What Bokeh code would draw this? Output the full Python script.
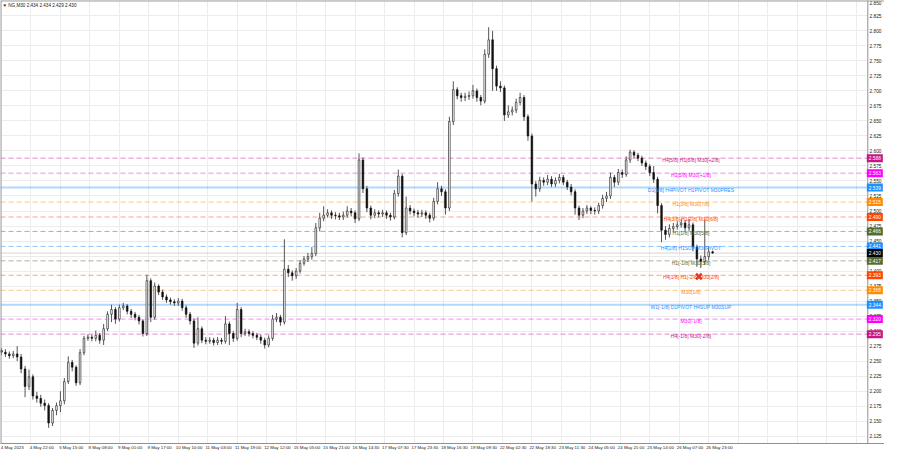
from bokeh.plotting import figure
from bokeh.models import (Range1d, FixedTicker, SingleIntervalTicker, Span, Label,
                          ColumnDataSource, PrintfTickFormatter)
from bokeh.embed import file_html
from bokeh.resources import INLINE
from bokeh.core.properties import value

# ---------------- data (NG, M30) ----------------
first_open = 2.268
closes = [
    2.265, 2.262, 2.259, 2.262, 2.257, 2.237, 2.208, 2.224, 2.192, 2.188,
    2.180, 2.176, 2.147, 2.168, 2.176, 2.184, 2.216, 2.248, 2.240, 2.214,
    2.264, 2.288, 2.290, 2.288, 2.293, 2.285, 2.304, 2.328, 2.336, 2.320,
    2.339, 2.342, 2.333, 2.328, 2.323, 2.317, 2.296, 2.384, 2.323, 2.375,
    2.365, 2.357, 2.352, 2.349, 2.347, 2.350, 2.339, 2.328, 2.317, 2.280,
    2.304, 2.285, 2.283, 2.285, 2.281, 2.285, 2.283, 2.312, 2.296, 2.288,
    2.336, 2.296, 2.299, 2.296, 2.293, 2.290, 2.285, 2.277, 2.288, 2.320,
    2.323, 2.315, 2.403, 2.397, 2.392, 2.400, 2.413, 2.420, 2.424, 2.429,
    2.472, 2.488, 2.493, 2.497, 2.493, 2.492, 2.490, 2.493, 2.500, 2.497,
    2.487, 2.585, 2.537, 2.505, 2.493, 2.497, 2.495, 2.497, 2.493, 2.490,
    2.529, 2.558, 2.464, 2.505, 2.500, 2.497, 2.495, 2.497, 2.493, 2.488,
    2.516, 2.537, 2.532, 2.505, 2.649, 2.702, 2.692, 2.689, 2.691, 2.692,
    2.700, 2.689, 2.683, 2.761, 2.785, 2.737, 2.708, 2.705, 2.660, 2.665,
    2.668, 2.681, 2.689, 2.657, 2.625, 2.545, 2.537, 2.551, 2.548, 2.553,
    2.545, 2.551, 2.556, 2.548, 2.540, 2.532, 2.505, 2.493, 2.500, 2.505,
    2.501, 2.500, 2.509, 2.521, 2.525, 2.556, 2.548, 2.564, 2.561, 2.585,
    2.598, 2.593, 2.588, 2.580, 2.574, 2.564, 2.553, 2.509, 2.468, 2.461,
    2.471, 2.474, 2.477, 2.480, 2.472, 2.477, 2.440, 2.420, 2.416, 2.424,
    2.432, 2.430,
]
highs = [
    2.272, 2.270, 2.266, 2.267, 2.275, 2.262, 2.242, 2.236, 2.228, 2.199,
    2.194, 2.186, 2.180, 2.172, 2.181, 2.200, 2.222, 2.258, 2.252, 2.243,
    2.270, 2.292, 2.295, 2.294, 2.301, 2.297, 2.312, 2.333, 2.344, 2.340,
    2.344, 2.347, 2.345, 2.337, 2.332, 2.327, 2.320, 2.394, 2.388, 2.381,
    2.378, 2.369, 2.361, 2.356, 2.353, 2.355, 2.354, 2.343, 2.332, 2.321,
    2.323, 2.308, 2.290, 2.290, 2.289, 2.290, 2.289, 2.325, 2.316, 2.300,
    2.347, 2.340, 2.304, 2.303, 2.300, 2.297, 2.294, 2.289, 2.293, 2.327,
    2.330, 2.327, 2.453, 2.410, 2.401, 2.405, 2.418, 2.425, 2.430, 2.440,
    2.480, 2.497, 2.508, 2.503, 2.501, 2.498, 2.497, 2.499, 2.508, 2.505,
    2.501, 2.596, 2.589, 2.542, 2.509, 2.503, 2.501, 2.502, 2.501, 2.497,
    2.535, 2.569, 2.562, 2.524, 2.510, 2.504, 2.502, 2.502, 2.501, 2.497,
    2.522, 2.548, 2.542, 2.536, 2.657, 2.716, 2.706, 2.697, 2.697, 2.699,
    2.710, 2.704, 2.693, 2.769, 2.806, 2.800, 2.742, 2.716, 2.709, 2.676,
    2.674, 2.687, 2.697, 2.693, 2.661, 2.629, 2.550, 2.557, 2.556, 2.560,
    2.558, 2.556, 2.562, 2.560, 2.552, 2.545, 2.536, 2.509, 2.505, 2.510,
    2.508, 2.506, 2.514, 2.527, 2.532, 2.564, 2.560, 2.570, 2.569, 2.591,
    2.602, 2.601, 2.597, 2.592, 2.584, 2.578, 2.575, 2.557, 2.513, 2.475,
    2.478, 2.480, 2.483, 2.487, 2.485, 2.487, 2.481, 2.444, 2.426, 2.486,
    2.440, 2.434,
]
lows = [
    2.260, 2.257, 2.254, 2.255, 2.250, 2.230, 2.190, 2.202, 2.186, 2.181,
    2.174, 2.168, 2.139, 2.142, 2.160, 2.165, 2.178, 2.212, 2.233, 2.209,
    2.210, 2.260, 2.284, 2.283, 2.283, 2.279, 2.277, 2.300, 2.315, 2.312,
    2.316, 2.335, 2.328, 2.322, 2.318, 2.311, 2.291, 2.292, 2.315, 2.319,
    2.360, 2.352, 2.347, 2.344, 2.342, 2.342, 2.334, 2.322, 2.311, 2.272,
    2.276, 2.280, 2.278, 2.279, 2.276, 2.277, 2.278, 2.279, 2.277, 2.282,
    2.284, 2.290, 2.292, 2.291, 2.288, 2.285, 2.279, 2.271, 2.273, 2.284,
    2.315, 2.309, 2.311, 2.390, 2.384, 2.387, 2.396, 2.409, 2.415, 2.419,
    2.425, 2.466, 2.483, 2.489, 2.487, 2.486, 2.485, 2.485, 2.489, 2.491,
    2.480, 2.483, 2.530, 2.498, 2.486, 2.488, 2.489, 2.490, 2.487, 2.484,
    2.486, 2.524, 2.456, 2.460, 2.494, 2.491, 2.489, 2.490, 2.487, 2.481,
    2.484, 2.511, 2.525, 2.494, 2.500, 2.643, 2.686, 2.682, 2.683, 2.685,
    2.687, 2.682, 2.676, 2.679, 2.755, 2.700, 2.700, 2.698, 2.650, 2.655,
    2.659, 2.663, 2.676, 2.650, 2.617, 2.516, 2.524, 2.532, 2.542, 2.543,
    2.540, 2.540, 2.546, 2.543, 2.535, 2.526, 2.494, 2.485, 2.488, 2.495,
    2.495, 2.494, 2.495, 2.504, 2.515, 2.520, 2.540, 2.543, 2.555, 2.557,
    2.580, 2.588, 2.583, 2.575, 2.568, 2.558, 2.547, 2.496, 2.448, 2.452,
    2.456, 2.466, 2.469, 2.472, 2.466, 2.467, 2.433, 2.407, 2.405, 2.410,
    2.418, 2.429,
]

time_labels = [
    "4 May 2023", "4 May 22:00", "5 May 15:00", "8 May 08:00", "9 May 01:00",
    "9 May 17:00", "10 May 10:00", "11 May 03:00", "11 May 19:00", "12 May 12:00",
    "15 May 05:00", "15 May 21:00", "16 May 14:30", "17 May 07:30", "17 May 23:30",
    "18 May 16:30", "19 May 09:30", "22 May 02:30", "22 May 18:30", "23 May 11:30",
    "24 May 05:00", "24 May 21:00", "25 May 14:00", "26 May 07:00", "26 May 23:00",
]

level_prices = [2.588, 2.563, 2.539, 2.515, 2.490, 2.466, 2.441,
                2.417, 2.393, 2.368, 2.344, 2.320, 2.295]
level_texts = [
    "H4[5/8] H1[6/8] M30[+2/8]",
    "H1[5/8] M30[+1/8]",
    "D1[5/8] H4PIVOT H1PIVOT M30PRES",
    "H1[3/8] M30[7/8]",
    "H4[3/8] H1[2/8] M30[6/8]",
    "H1[1/8] M30[5/8]",
    "H4[2/8] H1SUP M30PIVOT",
    "H1[-1/8] M30[3/8]",
    "H4[1/8] H1[-2/8] M30[2/8]",
    "M30[1/8]",
    "W1[-1/8] D1PIVOT H4SUP M30SUP",
    "M30[-1/8]",
    "H4[-1/8] M30[-2/8]",
]
level_colors = ["#C71585", "#FF00FF", "#1E90FF", "#FF8C00", "#FF4500", "#556B2F", "#1E90FF",
                "#556B2F", "#FF4500", "#FF8C00", "#1E90FF", "#FF00FF", "#C71585"]
level_solid = [False, False, True, False, False, False, False,
               False, False, False, True, False, False]

current_price = 2.430
header_text = "NG,M30  2.434 2.434 2.429 2.430"
mark_x = [711]
mark_y = [2.391]

# ---------------- figure ----------------
AXIS_X = 883          # where the price scale column begins (bar units)
X_END = 900
Y_LO, Y_HI = 2.1129, 2.8505
n = len(closes)
bar_x = [4 * i + 1 for i in range(n)]
opens = [first_open] + closes[:-1]
body_top = [max(o, c) for o, c in zip(opens, closes)]
body_bot = [min(o, c) for o, c in zip(opens, closes)]
body_fill = ["white" if c >= o else "#111111" for o, c in zip(opens, closes)]

src = ColumnDataSource(dict(x=bar_x, high=highs, low=lows, top=body_top,
                            bottom=body_bot, fill=body_fill))

p = figure(width=884, height=452, output_backend="svg", toolbar_location=None,
           x_range=Range1d(0, X_END), y_range=Range1d(Y_LO, Y_HI),
           y_axis_location="right", min_border=0)
p.background_fill_color = "white"
p.border_fill_color = "white"
p.outline_line_color = None

FONT = "Liberation Sans"

# price axis: labels drawn inside the right-hand price column
p.yaxis.ticker = SingleIntervalTicker(interval=0.025, num_minor_ticks=0)
p.yaxis.formatter = PrintfTickFormatter(format="%.3f")
p.yaxis.major_label_text_font = FONT
p.yaxis.major_label_text_font_size = "4.8px"
p.yaxis.major_label_text_color = "#222222"
p.yaxis.major_label_standoff = -15
p.yaxis.major_tick_in = 0
p.yaxis.major_tick_out = 0
p.yaxis.minor_tick_in = 0
p.yaxis.minor_tick_out = 0
p.yaxis.axis_label_standoff = 0
p.yaxis.axis_line_color = None
p.yaxis.major_tick_line_color = None
p.yaxis.minor_tick_line_color = None

tick_pos = [30 * k + 12 for k in range(len(time_labels))]
p.xaxis.ticker = FixedTicker(ticks=tick_pos)
p.xaxis.major_label_overrides = {t: s for t, s in zip(tick_pos, time_labels)}
p.xaxis.major_label_text_font = FONT
p.xaxis.major_label_text_font_size = "4.4px"
p.xaxis.major_label_text_color = "#222222"
p.xaxis.major_label_standoff = 1
p.xaxis.major_tick_in = 0
p.xaxis.major_tick_out = 0
p.xaxis.minor_tick_in = 0
p.xaxis.minor_tick_out = 0
p.xaxis.axis_label_standoff = 0
p.xaxis.major_tick_line_color = None
p.xaxis.minor_tick_line_color = None
p.xaxis.axis_line_color = "#909090"

p.xgrid.ticker = FixedTicker(ticks=[30 * k + 1 for k in range(30)])
p.xgrid.grid_line_color = "#ececec"
p.ygrid.grid_line_color = "#ececec"

# level lines (glyphs, ending at the price column)
solid_p = [pr for pr, s in zip(level_prices, level_solid) if s]
solid_c = [c for c, s in zip(level_colors, level_solid) if s]
dash_p = [pr for pr, s in zip(level_prices, level_solid) if not s]
dash_c = [c for c, s in zip(level_colors, level_solid) if not s]
p.segment(x0=0, x1=AXIS_X, y0=solid_p, y1=solid_p, line_color=solid_c,
          line_alpha=0.35, line_width=2)
p.segment(x0=0, x1=AXIS_X, y0=dash_p, y1=dash_p, line_color=dash_c,
          line_alpha=0.5, line_width=1, line_dash="5 3")
p.segment(x0=0, x1=AXIS_X, y0=[current_price], y1=[current_price],
          line_color="#d4d4d4", line_width=1)

# candles
p.segment(x0="x", y0="high", x1="x", y1="low", source=src, line_color="#555555",
          line_width=1)
p.vbar(x="x", width=1.7, top="top", bottom="bottom", source=src,
       fill_color="fill", line_color="#111111", line_width=0.6)

# level texts
tsrc = ColumnDataSource(dict(x=[703] * len(level_prices), y=level_prices,
                             t=level_texts, c=level_colors))
p.text(x="x", y="y", text="t", text_color="c", source=tsrc, text_align="center",
       text_baseline="middle", y_offset=2, text_font=value(FONT),
       text_font_size="5px")

# red cross
p.scatter(x=mark_x, y=mark_y, marker="x", size=8, line_color="#E8352B", line_width=2.5)

# white price column (a glyph, so the axis labels stay on top of it)
p.quad(left=[AXIS_X], right=[X_END + 5], bottom=[Y_LO - 1], top=[Y_HI + 1],
       fill_color="white", line_color=None)

# frame borders
p.add_layout(Span(location=AXIS_X, dimension="height", line_color="#909090", line_width=1))
p.add_layout(Span(location=0, dimension="height", line_color="#a0a0a0", line_width=2))
p.add_layout(Span(location=Y_HI, dimension="width", line_color="#a0a0a0", line_width=2))

# price boxes on the price scale
for price, col in zip(level_prices + [current_price], level_colors + ["#000000"]):
    p.add_layout(Label(x=AXIS_X - 1, y=price, text=f"{price:.3f}",
                       text_color="white", background_fill_color=col, text_font=FONT,
                       text_font_size="4.8px", text_baseline="middle", text_align="left",
                       padding=2))

# header
p.add_layout(Label(x=2, y=Y_HI, y_offset=-5, text="\u25BC " + header_text,
                   text_color="#222222", text_font=FONT, text_font_size="4.6px",
                   text_baseline="middle"))

open("out.html", "w").write(file_html(p, INLINE))
